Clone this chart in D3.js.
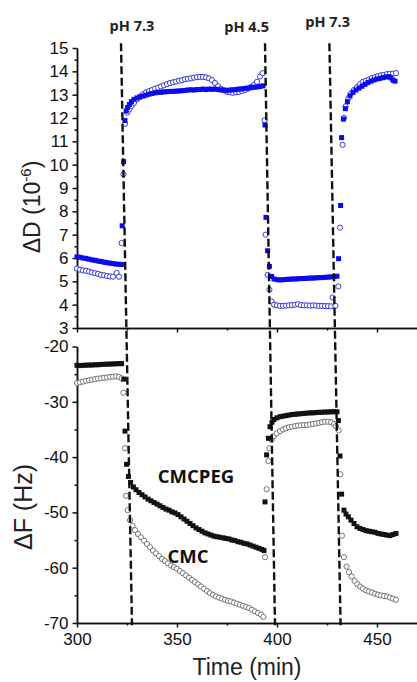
<!DOCTYPE html>
<html>
<head>
<meta charset="utf-8">
<script src="https://cdn.jsdelivr.net/npm/d3@7"></script>
<style>
  html, body { margin: 0; padding: 0; background: #fff; }
  svg { display: block; }
  .tick text { font-family: "Liberation Sans", Arial, sans-serif; font-size: 17px; fill: #111; }
</style>
</head>
<body>
<div id="chart"></div>
<script>
// time ticks (min)
const timeTicks = [300, 350, 400, 450];
const timeMinorTicks = [325, 375, 425];
const dTicks = [3, 4, 5, 6, 7, 8, 9, 10, 11, 12, 13, 14, 15];
const dMinorTicks = [3.5, 4.5, 5.5, 6.5, 7.5, 8.5, 9.5, 10.5, 11.5, 12.5, 13.5, 14.5];
const fTicks = [-70, -60, -50, -40, -30, -20];
const fMinorTicks = [-65, -55, -45, -35, -25];

// pH switches: [time at top, time at bottom] of the slanted dashed markers
const phSwitches = [[322, 327.5], [394, 399], [426.2, 431.8]];
const phLabels = [
  { text: 'pH 7.3', t: 327.5, d: 15.74 },
  { text: 'pH 4.5', t: 384.8, d: 15.7 },
  { text: 'pH 7.3', t: 425.3, d: 15.91 }
];
const seriesLabels = [
  { text: 'CMCPEG', t: 359.5, f: -44.7 },
  { text: 'CMC', t: 355.5, f: -59.2 }
];

// ΔD (10^-6), CMCPEG (filled squares)
const dCmcpeg = [[300,6.05],[301.5,6.03],[303,6.0],[304.5,5.98],[306,5.95],[307.5,5.92],[309,5.9],[310.5,5.87],[312,5.85],[313.5,5.82],[315,5.8],[316.5,5.78],[318,5.76],[319.5,5.74],[321,5.73],[322.2,5.72],
  [322.6,7.38],[323.3,10.13],[324,11.89],[324.6,12.3],[325.3,12.45],[326.2,12.58],[327.2,12.7],[328.5,12.8],[330,12.86],[331.5,12.9],[333,12.94],[334.5,12.98],[336,13.02],[337.5,13.05],[339,13.08],[340.5,13.1],[342,13.1],[343.5,13.12],[345,13.13],[346.5,13.14],[348,13.14],[349.5,13.15],[351,13.16],[352.5,13.17],[354,13.18],[355.5,13.2],[357,13.21],[358.5,13.2],[360,13.22],[361.5,13.22],[363,13.24],[364.5,13.22],[366,13.24],[367.5,13.23],[369,13.24],[370.5,13.22],[372,13.2],[373.5,13.2],[375,13.18],[376.5,13.2],[378,13.21],[379.5,13.22],[381,13.24],[382.5,13.25],[384,13.27],[385.5,13.28],[387,13.3],[388.5,13.32],[390,13.33],[391.5,13.35],[393,13.38],
  [394,11.7],[394.5,7.74],[395.3,6.31],[396.2,5.64],[397.3,5.21],[398.5,5.1],[400,5.07],[401.5,5.06],[403,5.07],[404.5,5.08],[406,5.09],[407.5,5.1],[409,5.1],[410.5,5.11],[412,5.12],[413.5,5.12],[415,5.13],[416.5,5.14],[418,5.14],[419.5,5.15],[421,5.16],[422.5,5.16],[424,5.17],[425.5,5.18],[427,5.19],[428.5,5.2],[430,5.22],
  [430.8,5.97],[431.8,8.25],[432.3,11.16],[433.2,11.95],[434.2,12.4],[435.2,12.7],[436.5,12.95],[438,13.1],[439.5,13.2],[441,13.28],[442.5,13.36],[444,13.44],[445.5,13.52],[447,13.58],[448.5,13.63],[450,13.67],[451.5,13.7],[453,13.73],[454.5,13.76],[456,13.77],[457,13.72],[458,13.62],[459,13.58]];

// ΔD (10^-6), CMC (open circles)
const dCmc = [[300,5.55],[301.5,5.5],[303,5.47],[304.5,5.45],[306,5.42],[307.5,5.38],[309,5.35],[310.5,5.32],[312,5.28],[313.5,5.26],[315,5.23],[316.5,5.21],[318,5.2],[319.8,5.36],[321,5.2],
  [322.3,6.64],[323.2,9.59],[324,11.75],[325.2,12.23],[326.2,12.38],[327.3,12.52],[328.5,12.65],[330,12.8],[331.5,12.92],[333,13.02],[334.5,13.1],[336,13.15],[337.5,13.2],[339,13.26],[340.5,13.3],[342,13.35],[343.5,13.4],[345,13.45],[346.5,13.5],[348,13.53],[349.5,13.56],[351,13.6],[352.5,13.62],[354,13.66],[355.5,13.68],[357,13.7],[358.5,13.73],[360,13.75],[361.5,13.76],[363,13.76],[364.5,13.74],[366,13.7],[367.5,13.62],[369,13.5],[370.5,13.36],[372,13.25],[373.5,13.18],[375,13.12],[376.5,13.1],[378,13.08],[379.5,13.1],[381,13.12],[382.5,13.16],[384,13.2],[385.5,13.26],[387,13.33],[388.5,13.42],[390,13.55],[391.5,13.78],[392.8,13.92],
  [393.8,11.9],[394.3,7.0],[395.3,5.28],[396.2,4.64],[397.3,4.14],[398.5,4.0],[400,3.97],[401.5,3.95],[403,3.95],[404.5,3.96],[406,3.97],[407.5,3.98],[409,4.0],[410.5,4.02],[412,3.98],[413.5,3.97],[415,3.97],[416.5,3.96],[418,3.97],[419.5,3.96],[421,3.95],[422.5,3.95],[424,3.94],[425.5,3.94],[427,3.93],[427.8,4.31],[429.2,3.95],
  [430.7,4.78],[431.5,7.3],[432.8,10.85],[433.5,12.0],[434.3,12.5],[435.7,12.85],[437,13.05],[438.5,13.2],[440,13.32],[441.5,13.45],[443,13.55],[444.5,13.6],[446,13.65],[447.5,13.72],[449,13.75],[450.5,13.8],[452,13.83],[453.5,13.85],[455,13.88],[456.5,13.9],[458,13.9],[459.5,13.92]];

// ΔF (Hz), CMCPEG (filled squares)
const fCmcpeg = [[300,-23.4],[301.5,-23.45],[303,-23.4],[304.5,-23.38],[306,-23.35],[307.5,-23.35],[309,-23.3],[310.5,-23.3],[312,-23.25],[313.5,-23.22],[315,-23.2],[316.5,-23.18],[318,-23.15],[319.5,-23.12],[321,-23.1],[322.3,-23.1],
  [323.4,-25.9],[324,-35.3],[324.8,-41.3],[325.7,-43.5],[326.8,-44.6],[328.2,-45.4],[329.5,-45.9],[331,-46.4],[332.5,-46.8],[334,-47.2],[335.5,-47.6],[337,-47.9],[338.5,-48.2],[340,-48.5],[341.5,-48.8],[343,-49.1],[344.5,-49.4],[346,-49.6],[347.5,-49.9],[349,-50.1],[350.5,-50.4],[352,-50.8],[353.5,-51.2],[355,-51.6],[356.5,-52.0],[358,-52.4],[359.5,-52.8],[361,-53.1],[362.5,-53.4],[364,-53.7],[365.5,-53.9],[367,-54.1],[368.5,-54.3],[370,-54.4],[371.5,-54.5],[373,-54.6],[374.5,-54.7],[376,-54.8],[377.5,-55.0],[379,-55.1],[380.5,-55.3],[382,-55.4],[383.5,-55.6],[385,-55.7],[386.5,-55.9],[388,-56.1],[389.5,-56.3],[391,-56.5],[392.5,-56.7],[393.5,-56.9],
  [394,-48.1],[394.8,-39.6],[395.7,-36.6],[396.5,-34.5],[397.5,-33.7],[398.5,-33.2],[400,-32.9],[401.5,-32.7],[403,-32.6],[404.5,-32.5],[406,-32.4],[407.5,-32.3],[409,-32.25],[410.5,-32.2],[412,-32.15],[413.5,-32.1],[415,-32.05],[416.5,-32.0],[418,-32.0],[419.5,-31.95],[421,-31.9],[422.5,-31.9],[424,-31.85],[425.5,-31.85],[427,-31.8],[428.5,-31.8],[430,-31.8],
  [430.7,-33.4],[431.5,-39.8],[432.3,-46.7],[433.5,-49.6],[434.5,-50.3],[435.7,-50.8],[437,-51.4],[438.5,-52.0],[440,-52.6],[441.5,-52.9],[443,-53.1],[444.5,-53.3],[446,-53.4],[447.5,-53.5],[449,-53.6],[450.5,-53.8],[452,-53.9],[453.5,-54.0],[455,-54.1],[456.5,-54.2],[458,-54.0],[459.5,-53.8]];

// ΔF (Hz), CMC (open circles)
const fCmc = [[300,-26.6],[301.5,-26.5],[303,-26.35],[304.5,-26.2],[306,-26.1],[307.5,-26.0],[309,-25.9],[310.5,-25.8],[312,-25.75],[313.5,-25.65],[315,-25.6],[316.5,-25.5],[318,-25.45],[319.5,-25.4],[321,-25.5],[322.3,-25.75],
  [323.2,-28.35],[324,-38.4],[324.5,-47],[325.3,-49.6],[326.5,-51.4],[327.8,-52.4],[329,-53.2],[330.5,-53.9],[332,-54.5],[333.5,-55.1],[335,-55.7],[336.5,-56.3],[338,-56.9],[339.5,-57.4],[341,-57.9],[342.5,-58.4],[344,-58.8],[345.5,-59.2],[347,-59.6],[348.5,-59.9],[350,-60.2],[351.5,-60.6],[353,-61],[354.5,-61.4],[356,-61.8],[357.5,-62.2],[359,-62.6],[360.5,-63],[362,-63.4],[363.5,-63.8],[365,-64.2],[366.5,-64.6],[368,-64.9],[369.5,-65.2],[371,-65.4],[372.5,-65.6],[374,-65.8],[375.5,-66.0],[377,-66.1],[378.5,-66.3],[380,-66.5],[381.5,-66.7],[383,-66.9],[384.5,-67.1],[386,-67.3],[387.5,-67.6],[389,-67.9],[390.5,-68.2],[392,-68.5],[393.2,-68.9],
  [394,-58.1],[394.8,-45.8],[395.7,-40.7],[396.2,-38.4],[397.3,-36.9],[398.5,-36.2],[399.8,-35.7],[401.5,-35.3],[403,-35.0],[404.5,-34.8],[406,-34.6],[407.5,-34.5],[409,-34.4],[410.5,-34.3],[412,-34.25],[413.5,-34.2],[415,-34.2],[416.5,-34.1],[418,-34.0],[419.5,-33.9],[421,-33.8],[422.5,-33.7],[424,-33.6],[425.5,-33.6],[427,-33.7],[428.5,-34.0],[429.5,-34.4],
  [430.8,-35.2],[431.7,-43.1],[432.5,-54.2],[433.5,-58.1],[434.8,-59.8],[436,-60.8],[437.3,-61.6],[438.8,-62.4],[440.2,-63],[441.5,-63.4],[443,-63.8],[444.5,-64.1],[446,-64.3],[447.5,-64.5],[449,-64.7],[450.5,-64.9],[452,-65.0],[453.5,-65.1],[455,-65.2],[456.5,-65.4],[458,-65.6],[459.5,-65.8]];

const width = 417;
const height = 682;
const axisFont = '"Liberation Sans", Arial, sans-serif';
const noteFont = '"Open Sans", "Noto Sans", sans-serif';

const svg = d3.select('#chart').append('svg').attr('width', width).attr('height', height);

const x = d3.scaleLinear().domain([300, 470]).range([77, 417]);
const yD = d3.scaleLinear().domain([3, 15]).range([328, 48]);
const yF = d3.scaleLinear().domain([-70, -20]).range([623, 346.5]);

function styleAxis(sel) {
  sel.select('.domain').attr('stroke', '#111').attr('stroke-width', 1.5);
  sel.selectAll('.tick line').attr('stroke', '#111').attr('stroke-width', 1.5);
}

// top panel axes
svg.append('g')
  .attr('transform', `translate(0,${yD(3)})`)
  .call(d3.axisBottom(x).tickValues(timeMinorTicks).tickSize(2.5).tickSizeOuter(0).tickFormat(''))
  .call(styleAxis);
svg.append('g')
  .attr('transform', `translate(0,${yD(3)})`)
  .call(d3.axisBottom(x).tickValues(timeTicks).tickSize(4.5).tickSizeOuter(0).tickFormat(''))
  .call(styleAxis);
svg.append('g')
  .attr('transform', `translate(${x(300)},0)`)
  .call(d3.axisLeft(yD).tickValues(dMinorTicks).tickSize(2.5).tickSizeOuter(0).tickFormat(''))
  .call(styleAxis);
svg.append('g')
  .attr('transform', `translate(${x(300)},0)`)
  .call(d3.axisLeft(yD).tickValues(dTicks).tickSize(4.5).tickSizeOuter(0).tickPadding(4).tickFormat(d3.format('d')))
  .call(styleAxis);

// bottom panel axes
svg.append('g')
  .attr('transform', `translate(0,${yF(-70)})`)
  .call(d3.axisBottom(x).tickValues(timeMinorTicks).tickSize(2.5).tickSizeOuter(0).tickFormat(''))
  .call(styleAxis);
svg.append('g')
  .attr('transform', `translate(0,${yF(-70)})`)
  .call(d3.axisBottom(x).tickValues(timeTicks).tickSize(4.5).tickSizeOuter(0).tickPadding(5).tickFormat(d3.format('d')))
  .call(styleAxis);
svg.append('g')
  .attr('transform', `translate(${x(300)},0)`)
  .call(d3.axisLeft(yF).tickValues(fMinorTicks).tickSize(2.5).tickSizeOuter(0).tickFormat(''))
  .call(styleAxis);
svg.append('g')
  .attr('transform', `translate(${x(300)},0)`)
  .call(d3.axisLeft(yF).tickValues(fTicks).tickSize(4.5).tickSizeOuter(0).tickPadding(4).tickFormat(d => String(d).replace('\u2212', '-')))
  .call(styleAxis);

// markers
function drawCircles(data, y, stroke) {
  svg.append('g').selectAll('circle').data(data).join('circle')
    .attr('cx', d => x(d[0]))
    .attr('cy', d => y(d[1]))
    .attr('r', 2.6)
    .attr('fill', '#fff')
    .attr('stroke', stroke)
    .attr('stroke-width', 1);
}
function drawSquares(data, y, fill) {
  const s = 5;
  svg.append('g').selectAll('rect').data(data).join('rect')
    .attr('x', d => x(d[0]) - s / 2)
    .attr('y', d => y(d[1]) - s / 2)
    .attr('width', s)
    .attr('height', s)
    .attr('fill', fill);
}

drawCircles(dCmc, yD, '#3b3be6');
drawSquares(dCmcpeg, yD, '#0a0af0');
drawCircles(fCmc, yF, '#777');
drawSquares(fCmcpeg, yF, '#111');

// pH switch markers, one slanted dashed line through both panels
svg.append('g').selectAll('line').data(phSwitches).join('line')
  .attr('x1', d => x(d[0]))
  .attr('y1', yD(15.2))
  .attr('x2', d => x(d[1]))
  .attr('y2', yF(-70.4))
  .attr('stroke', '#111')
  .attr('stroke-width', 2.4)
  .attr('stroke-dasharray', '8,3.5');

svg.append('g').selectAll('text').data(phLabels).join('text')
  .attr('x', d => x(d.t))
  .attr('y', d => yD(d.d))
  .attr('text-anchor', 'middle')
  .attr('font-family', noteFont)
  .attr('font-weight', 700)
  .attr('font-size', 14.5)
  .attr('fill', '#222')
  .text(d => d.text);

svg.append('g').selectAll('text').data(seriesLabels).join('text')
  .attr('x', d => x(d.t))
  .attr('y', d => yF(d.f))
  .attr('text-anchor', 'middle')
  .attr('font-family', noteFont)
  .attr('font-weight', 700)
  .attr('font-size', 18.5)
  .attr('fill', '#111')
  .text(d => d.text);

// axis titles
const dTitle = svg.append('text')
  .attr('transform', 'translate(40,207) rotate(-90)')
  .attr('text-anchor', 'middle')
  .attr('font-family', axisFont)
  .attr('font-size', 23)
  .attr('fill', '#222');
dTitle.append('tspan').text('\u0394D (10');
dTitle.append('tspan').attr('font-size', 15).attr('dy', -9).text('-6');
dTitle.append('tspan').attr('dy', 9).text(')');

svg.append('text')
  .attr('transform', 'translate(32,507) rotate(-90)')
  .attr('text-anchor', 'middle')
  .attr('font-family', axisFont)
  .attr('font-size', 25)
  .attr('fill', '#222')
  .text('\u0394F (Hz)');

svg.append('text')
  .attr('x', 247)
  .attr('y', 675)
  .attr('text-anchor', 'middle')
  .attr('font-family', axisFont)
  .attr('font-size', 23)
  .attr('fill', '#222')
  .text('Time (min)');
</script>
</body>
</html>
